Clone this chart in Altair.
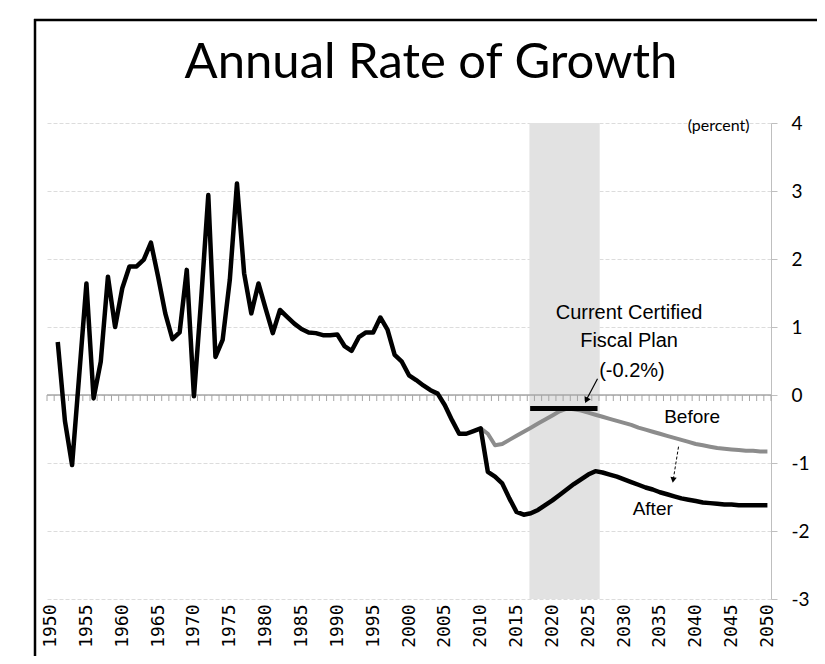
import altair as alt
import pandas as pd

# ---------------- data ----------------
years_hist = list(range(1951, 2011))
growth_hist = [0.78, -0.38, -1.03, 0.30, 1.64, -0.05, 0.49, 1.74, 1.00, 1.57,
               1.89, 1.89, 1.99, 2.24, 1.74, 1.20, 0.82, 0.92, 1.84, -0.02,
               1.40, 2.94, 0.56, 0.81, 1.69, 3.11, 1.79, 1.20, 1.64, 1.27,
               0.91, 1.25, 1.15, 1.05, 0.97, 0.92, 0.91, 0.88, 0.88, 0.89,
               0.72, 0.65, 0.85, 0.92, 0.92, 1.14, 0.96, 0.59, 0.49, 0.29,
               0.22, 0.14, 0.07, 0.02, -0.15, -0.37, -0.57, -0.57, -0.53, -0.49]

years_after = list(range(2011, 2051))
growth_after = [-1.13, -1.20, -1.30, -1.52, -1.72, -1.76, -1.74, -1.69, -1.62, -1.55,
                -1.47, -1.39, -1.31, -1.24, -1.17, -1.12, -1.14, -1.17, -1.20, -1.24,
                -1.28, -1.32, -1.36, -1.39, -1.43, -1.46, -1.49, -1.52, -1.54, -1.56,
                -1.58, -1.59, -1.60, -1.61, -1.61, -1.62, -1.62, -1.62, -1.62, -1.62]

years_before = list(range(2010, 2051))
growth_before = [-0.49, -0.57, -0.74, -0.72, -0.66, -0.60, -0.54, -0.48, -0.42, -0.36,
                 -0.30, -0.24, -0.20, -0.21, -0.23, -0.26, -0.29, -0.32, -0.35, -0.38,
                 -0.41, -0.44, -0.48, -0.51, -0.54, -0.57, -0.60, -0.63, -0.66, -0.69,
                 -0.72, -0.74, -0.76, -0.78, -0.79, -0.80, -0.81, -0.82, -0.82, -0.83, -0.83]

label_years = list(range(1950, 2051, 5))
y_ticks = [-3, -2, -1, 0, 1, 2, 3, 4]
tick_years = [y + 0.5 for y in range(1949, 2051)]

band = {"start": 2016.8, "end": 2026.6, "low": -3, "high": 4}
plan = {"start": 2016.9, "end": 2026.3, "value": -0.2}

title_text = "Annual Rate of Growth"
annot_lines = ["Current Certified", "Fiscal Plan", "(-0.2%)"]
annot_year = [2030.7, 2030.7, 2031.1]
annot_value = [1.20, 0.79, 0.35]

# ---------------- shared encodings ----------------
X = alt.X("year:Q",
          scale=alt.Scale(domain=[1949.5, 2050.5], nice=False, zero=False),
          axis=alt.Axis(values=label_years, labelAngle=270, domain=False, ticks=False,
                        tickSize=0, grid=False, labelPadding=5, labelExpr="datum.value + ''",
                        labelFont="DejaVu Sans Mono", labelFontSize=18, labelColor="black",
                        title=None))
Y = alt.Y("value:Q",
          scale=alt.Scale(domain=[-3, 4], nice=False, zero=False),
          axis=alt.Axis(orient="right", values=y_ticks, grid=True, gridColor="#dcdcdc",
                        gridDash=[4, 2], gridWidth=1, domainColor="#bfbfbf", tickColor="#bfbfbf",
                        tickSize=6, labelPadding=14, labelExpr="datum.value + ''",
                        labelFont="Lato", labelFontSize=19, labelColor="black", title=None))

main_df = pd.DataFrame({"year": years_hist + years_after, "value": growth_hist + growth_after})
before_df = pd.DataFrame({"year": years_before, "value": growth_before})

band_layer = alt.Chart(pd.DataFrame({"year": [band["start"]], "year2": [band["end"]],
                                     "value": [band["low"]], "value2": [band["high"]]})).mark_rect(
    color="#e2e2e2").encode(x=X, x2="year2:Q", y=Y, y2="value2:Q")

zero_line = alt.Chart(pd.DataFrame({"value": [0]})).mark_rule(color="#a6a6a6", strokeWidth=1.5).encode(y=Y)

zero_ticks = alt.Chart(pd.DataFrame({"year": tick_years, "value": [0] * len(tick_years),
                                     "value2": [0] * len(tick_years)})).mark_rule(
    color="#a6a6a6", strokeWidth=1, y2Offset=6).encode(x=X, y=Y, y2="value2:Q")

before_line = alt.Chart(before_df).mark_line(color="#8c8c8c", strokeWidth=4, strokeJoin="round").encode(x=X, y=Y)
main_line = alt.Chart(main_df).mark_line(color="black", strokeWidth=4.5, strokeJoin="round").encode(x=X, y=Y)

plan_bar = alt.Chart(pd.DataFrame({"year": [plan["start"]], "year2": [plan["end"]],
                                   "value": [plan["value"]]})).mark_rule(
    color="black", strokeWidth=5).encode(x=X, x2="year2:Q", y=Y)

# arrows
arrow_df = pd.DataFrame({"year": [2026.3], "year2": [2024.8], "value": [0.24], "value2": [-0.06]})
arrow_line = alt.Chart(arrow_df).mark_rule(color="black", strokeWidth=1.2).encode(
    x=X, x2="year2:Q", y=Y, y2="value2:Q")
arrow_head = alt.Chart(pd.DataFrame({"year": [2024.75], "value": [-0.08]})).mark_point(
    shape="triangle-down", filled=True, color="black", size=45, angle=27, opacity=1).encode(x=X, y=Y)

darrow_df = pd.DataFrame({"year": [2037.6], "year2": [2036.9], "value": [-0.76], "value2": [-1.22]})
darrow_line = alt.Chart(darrow_df).mark_rule(color="black", strokeWidth=1, strokeDash=[3, 2]).encode(
    x=X, x2="year2:Q", y=Y, y2="value2:Q")
darrow_head = alt.Chart(pd.DataFrame({"year": [2036.85], "value": [-1.25]})).mark_point(
    shape="triangle-down", filled=True, color="black", size=40, angle=9, opacity=1).encode(x=X, y=Y)

annot = alt.Chart(pd.DataFrame({"year": annot_year, "value": annot_value, "label": annot_lines})).mark_text(
    font="Liberation Sans", fontSize=20, color="black", align="center", baseline="middle").encode(
    x=X, y=Y, text="label:N")

series_labels = alt.Chart(pd.DataFrame({"year": [2039.5, 2034.0], "value": [-0.32, -1.68],
                                        "label": ["Before", "After"]})).mark_text(
    font="Liberation Sans", fontSize=19, color="black", align="center", baseline="middle").encode(
    x=X, y=Y, text="label:N")

unit_label = alt.Chart(pd.DataFrame({"year": [2047.5], "value": [3.96], "label": ["(percent)"]})).mark_text(
    font="Lato", fontSize=16, color="black", align="right", baseline="middle").encode(
    x=X, y=Y, text="label:N")

# chart title, drawn as a text mark above the plot area
title_mark = alt.Chart(pd.DataFrame({"label": [title_text]})).mark_text(
    font="Lato", fontSize=49, color="black", align="center", baseline="alphabetic").encode(
    x=alt.value(384), y=alt.value(-45), text="label:N")

# outer frame: only its left and top edges fall inside the picture
frame_left = alt.Chart(pd.DataFrame({"a": [0]})).mark_rule(color="black", strokeWidth=2.5).encode(
    x=alt.value(-12), y=alt.value(-104), y2=alt.value(1200))
frame_top = alt.Chart(pd.DataFrame({"a": [0]})).mark_rule(color="black", strokeWidth=2.5).encode(
    x=alt.value(-13), x2=alt.value(1200), y=alt.value(-103))

chart = alt.layer(
    band_layer, zero_line, zero_ticks, before_line, main_line, plan_bar,
    arrow_line, arrow_head, darrow_line, darrow_head, annot, series_labels, unit_label,
    title_mark, frame_left, frame_top
).properties(
    width=724, height=476,
    background="white",
    autosize=alt.AutoSizeParams(type="none"),
    padding={"left": 39, "top": 115, "right": 46, "bottom": 57},
).configure_view(stroke="transparent", strokeWidth=0)

chart.save("out.html", embed_options={"renderer": "svg", "actions": False})
